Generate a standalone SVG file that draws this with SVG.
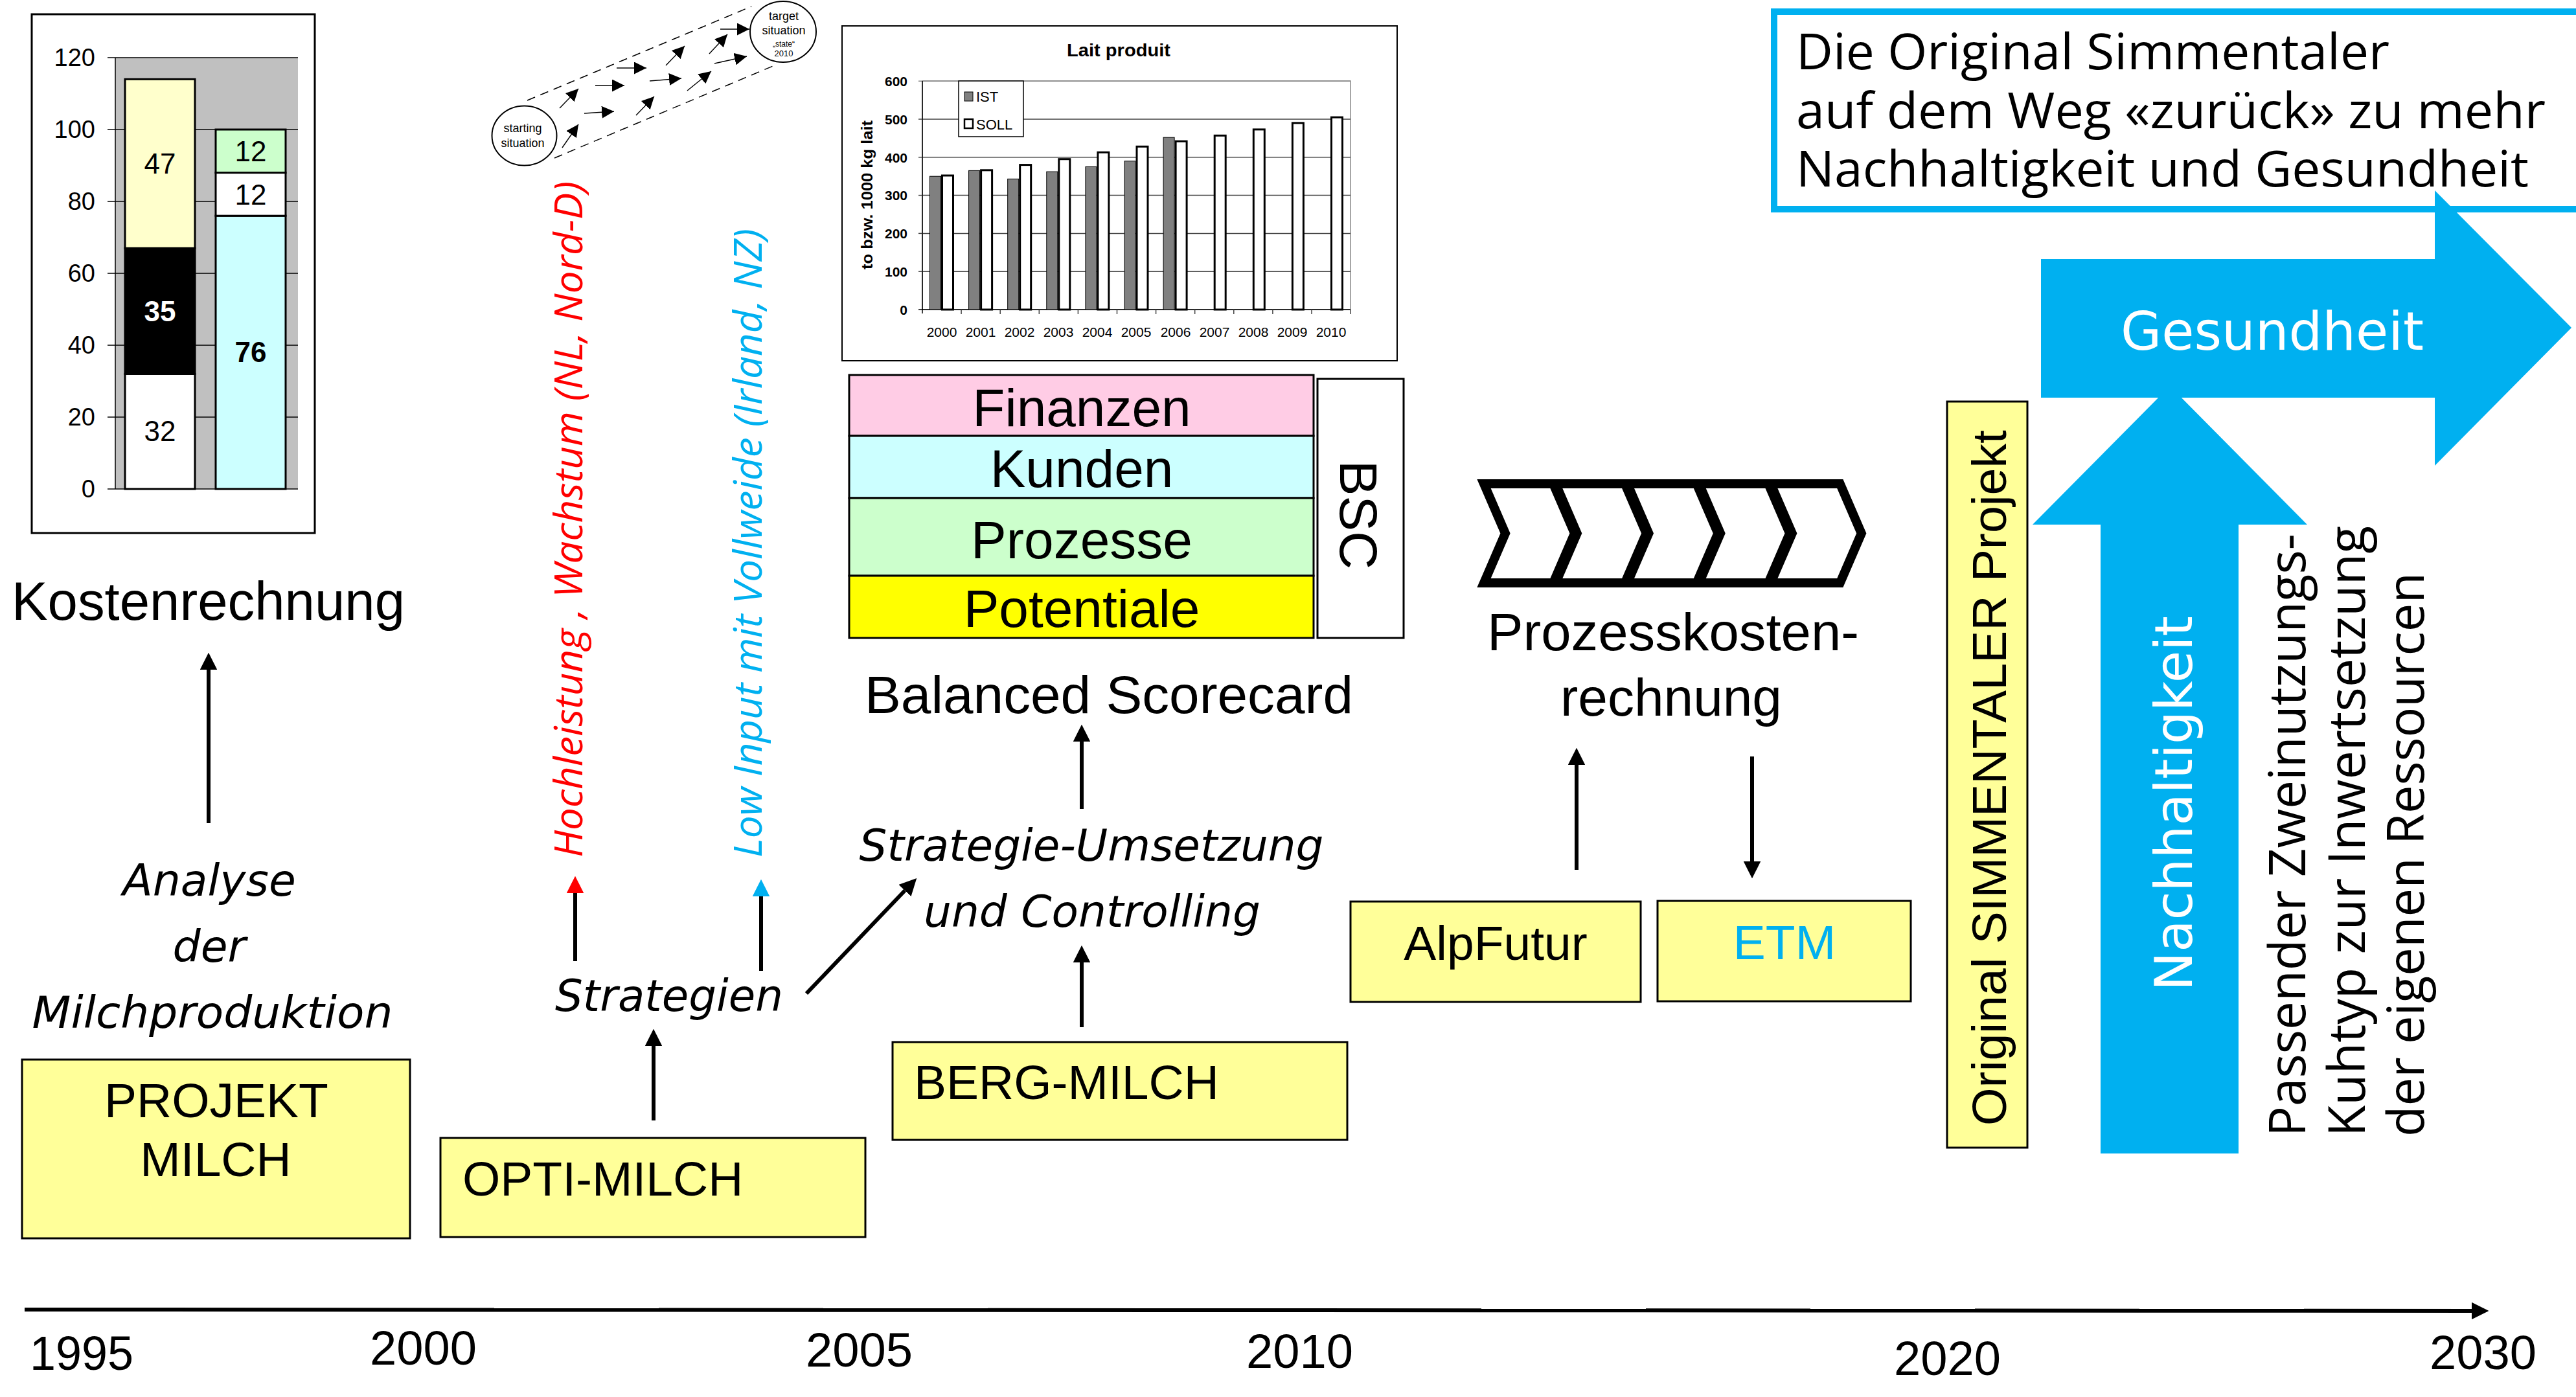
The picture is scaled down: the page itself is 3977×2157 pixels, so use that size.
<svg xmlns="http://www.w3.org/2000/svg" width="3977" height="2157" viewBox="0 0 3977 2157">
<style>
.box{fill:#FFFF99;stroke:#000;stroke-width:3}
.sans{font-family:"Liberation Sans",Arial,sans-serif}
.ital{font-family:"DejaVu Sans",Verdana,sans-serif;font-style:italic}
.cal{font-family:"Open Sans","Noto Sans",sans-serif}
.conn{stroke:#000;stroke-width:6;fill:none}
.grid{stroke:#000;stroke-width:1.5}
.grid2{stroke:#444;stroke-width:1.5}
.bar{stroke:#000;stroke-width:3}
.sm{stroke:#000;stroke-width:1.4;fill:none}
.chev{fill:#fff;stroke:#000;stroke-width:14;stroke-miterlimit:2}
</style>
<defs>
<marker id="ah" viewBox="0 0 10 10" refX="0" refY="5" markerWidth="4.4" markerHeight="4.4" orient="auto" markerUnits="strokeWidth"><path d="M0,0 L10,5 L0,10 z" fill="#000"/></marker>
<marker id="ahr" viewBox="0 0 10 10" refX="0" refY="5" markerWidth="4.4" markerHeight="4.4" orient="auto" markerUnits="strokeWidth"><path d="M0,0 L10,5 L0,10 z" fill="#FF0000"/></marker>
<marker id="ahb" viewBox="0 0 10 10" refX="0" refY="5" markerWidth="4.4" markerHeight="4.4" orient="auto" markerUnits="strokeWidth"><path d="M0,0 L10,5 L0,10 z" fill="#00B0F0"/></marker>
<marker id="sm" viewBox="0 0 20 20" refX="20" refY="10" markerWidth="19" markerHeight="19" orient="auto" markerUnits="userSpaceOnUse"><path d="M0,0 L20,10 L0,20 z" fill="#000"/></marker>
</defs>
<rect width="3977" height="2157" fill="#fff"/>

<!-- Left cost chart -->
<g id="chart-kosten">
<rect x="49" y="22" width="437" height="801" fill="#fff" stroke="#000" stroke-width="3"/>
<rect x="178" y="89" width="282" height="666" fill="#C0C0C0"/>
<g class="grid">
<line x1="166" y1="89" x2="460" y2="89"/>
<line x1="166" y1="200" x2="460" y2="200"/>
<line x1="166" y1="311" x2="460" y2="311"/>
<line x1="166" y1="422" x2="460" y2="422"/>
<line x1="166" y1="533" x2="460" y2="533"/>
<line x1="166" y1="644" x2="460" y2="644"/>
<line x1="166" y1="755" x2="460" y2="755"/>
<line x1="178" y1="89" x2="178" y2="755"/>
</g>
<g class="sans" font-size="38" text-anchor="end">
<text x="147" y="102">120</text>
<text x="147" y="213">100</text>
<text x="147" y="324">80</text>
<text x="147" y="435">60</text>
<text x="147" y="546">40</text>
<text x="147" y="657">20</text>
<text x="147" y="768">0</text>
</g>
<rect class="bar" x="193" y="577.4" width="108" height="177.6" fill="#fff"/>
<rect class="bar" x="193" y="383.2" width="108" height="194.2" fill="#000"/>
<rect class="bar" x="193" y="122.3" width="108" height="260.9" fill="#FFFFCC"/>
<rect class="bar" x="333" y="333.2" width="108" height="421.8" fill="#CCFFFF"/>
<rect class="bar" x="333" y="266.6" width="108" height="66.6" fill="#fff"/>
<rect class="bar" x="333" y="200" width="108" height="66.6" fill="#CCFFCC"/>
<g class="sans" font-size="44" text-anchor="middle">
<text x="247" y="268">47</text>
<text x="247" y="496" font-weight="bold" fill="#fff">35</text>
<text x="247" y="681">32</text>
<text x="387" y="249">12</text>
<text x="387" y="316">12</text>
<text x="387" y="559" font-weight="bold">76</text>
</g>
</g>

<g id="kostenrechnung"><text class="sans" x="18" y="957" font-size="84" textLength="607" lengthAdjust="spacingAndGlyphs">Kostenrechnung</text></g>
<g id="analyse" class="ital" font-size="68" text-anchor="middle">
<text x="323" y="1383">Analyse</text>
<text x="323" y="1485">der</text>
<text x="328" y="1587" textLength="557" lengthAdjust="spacingAndGlyphs">Milchproduktion</text>
</g>
<g id="projekt-milch">
<rect class="box" x="34" y="1636" width="599" height="276"/>
<text class="sans" font-size="75" text-anchor="middle" x="334" y="1725">PROJEKT</text>
<text class="sans" font-size="75" text-anchor="middle" x="333" y="1816">MILCH</text>
</g>

<!-- starting / target sketch -->
<g id="path-sketch">
<line x1="814" y1="155" x2="1160" y2="10" stroke="#000" stroke-width="1.5" stroke-dasharray="13,9"/>
<line x1="856" y1="244" x2="1198" y2="100" stroke="#000" stroke-width="1.5" stroke-dasharray="13,9"/>
<ellipse cx="809.5" cy="209.5" rx="50" ry="46" fill="#fff" stroke="#000" stroke-width="2"/>
<text class="sans" font-size="18" text-anchor="middle" x="807" y="204">starting</text>
<text class="sans" font-size="18" text-anchor="middle" x="807" y="227">situation</text>
<ellipse cx="1209" cy="49" rx="51" ry="47" fill="#fff" stroke="#000" stroke-width="2"/>
<text class="sans" font-size="18" text-anchor="middle" x="1210" y="31">target</text>
<text class="sans" font-size="18" text-anchor="middle" x="1210" y="53">situation</text>
<text class="sans" font-size="12" text-anchor="middle" x="1210" y="72">„state“</text>
<text class="sans" font-size="13" text-anchor="middle" x="1210" y="87">2010</text>
<g class="sm" marker-end="url(#sm)">
<line x1="864" y1="167" x2="893" y2="137"/>
<line x1="868" y1="228" x2="893" y2="192"/>
<line x1="902" y1="175" x2="948" y2="172"/>
<line x1="919" y1="132" x2="964" y2="132"/>
<line x1="952" y1="105" x2="998" y2="105"/>
<line x1="982" y1="178" x2="1010" y2="149"/>
<line x1="1003" y1="125" x2="1052" y2="121"/>
<line x1="1028" y1="101" x2="1057" y2="71"/>
<line x1="1061" y1="140" x2="1098" y2="110"/>
<line x1="1095" y1="83" x2="1123" y2="53"/>
<line x1="1103" y1="98" x2="1153" y2="87"/>
<line x1="1112" y1="45" x2="1157" y2="45"/>
</g>
</g>

<g id="hochleistung"><text class="cal" font-style="italic" font-size="60" fill="#FF0000" transform="translate(899,1324) rotate(-90)" textLength="1044" lengthAdjust="spacingAndGlyphs">Hochleistung , Wachstum (NL, Nord-D)</text></g>
<g id="lowinput"><text class="cal" font-style="italic" font-size="60" fill="#00B0F0" transform="translate(1176,1324) rotate(-90)" textLength="971" lengthAdjust="spacingAndGlyphs">Low Input mit Vollweide (Irland, NZ)</text></g>
<g id="strategien"><text class="ital" font-size="67" x="857" y="1561" textLength="352" lengthAdjust="spacingAndGlyphs">Strategien</text></g>
<g id="opti-milch">
<rect class="box" x="680" y="1757" width="656" height="153"/>
<text class="sans" font-size="75" x="714" y="1846">OPTI-MILCH</text>
</g>

<!-- Lait produit chart -->
<g id="chart-lait">
<rect x="1300" y="40" width="857" height="517" fill="#fff" stroke="#000" stroke-width="2"/>
<text class="sans" font-size="27" font-weight="bold" text-anchor="middle" x="1727" y="87" textLength="160" lengthAdjust="spacingAndGlyphs">Lait produit</text>
<rect x="1424" y="125" width="661" height="353" fill="#fff" stroke="#888" stroke-width="1.5"/>
<g class="grid2">
<line x1="1424" y1="419.2" x2="2085" y2="419.2"/>
<line x1="1424" y1="360.4" x2="2085" y2="360.4"/>
<line x1="1424" y1="301.6" x2="2085" y2="301.6"/>
<line x1="1424" y1="242.8" x2="2085" y2="242.8"/>
<line x1="1424" y1="184" x2="2085" y2="184"/>
<line x1="1418" y1="125.2" x2="2085" y2="125.2" stroke="#888"/>
<line x1="1418" y1="478" x2="2085" y2="478" stroke="#000"/>
<line x1="1424" y1="125" x2="1424" y2="484" stroke="#000"/>
<line x1="1418" y1="419.2" x2="1424" y2="419.2"/>
<line x1="1418" y1="360.4" x2="1424" y2="360.4"/>
<line x1="1418" y1="301.6" x2="1424" y2="301.6"/>
<line x1="1418" y1="242.8" x2="1424" y2="242.8"/>
<line x1="1418" y1="184" x2="1424" y2="184"/>
<line x1="1484.1" y1="478" x2="1484.1" y2="485"/>
<line x1="1544.2" y1="478" x2="1544.2" y2="485"/>
<line x1="1604.3" y1="478" x2="1604.3" y2="485"/>
<line x1="1664.4" y1="478" x2="1664.4" y2="485"/>
<line x1="1724.5" y1="478" x2="1724.5" y2="485"/>
<line x1="1784.6" y1="478" x2="1784.6" y2="485"/>
<line x1="1844.7" y1="478" x2="1844.7" y2="485"/>
<line x1="1904.8" y1="478" x2="1904.8" y2="485"/>
<line x1="1964.9" y1="478" x2="1964.9" y2="485"/>
<line x1="2025" y1="478" x2="2025" y2="485"/>
<line x1="2085" y1="478" x2="2085" y2="485"/>
</g>
<g fill="#808080" stroke="#000" stroke-width="1">
<rect x="1435.5" y="272.2" width="17" height="205.8"/>
<rect x="1495.6" y="263.4" width="17" height="214.6"/>
<rect x="1555.7" y="276.3" width="17" height="201.7"/>
<rect x="1615.8" y="265.1" width="17" height="212.9"/>
<rect x="1675.9" y="257.5" width="17" height="220.5"/>
<rect x="1736" y="248.7" width="17" height="229.3"/>
<rect x="1796.1" y="212.2" width="17" height="265.8"/>
</g>
<g fill="#fff" stroke="#000" stroke-width="3">
<rect x="1454.5" y="271" width="17" height="207"/>
<rect x="1514.6" y="262.8" width="17" height="215.2"/>
<rect x="1574.7" y="254.6" width="17" height="223.4"/>
<rect x="1634.8" y="245.7" width="17" height="232.3"/>
<rect x="1694.9" y="235.2" width="17" height="242.8"/>
<rect x="1755" y="226.3" width="17" height="251.7"/>
<rect x="1815.1" y="218.1" width="17" height="259.9"/>
<rect x="1875.2" y="209.3" width="17" height="268.7"/>
<rect x="1935.3" y="199.9" width="17" height="278.1"/>
<rect x="1995.4" y="189.9" width="17" height="288.1"/>
<rect x="2055.5" y="181.1" width="17" height="296.9"/>
</g>
<rect x="1480" y="125" width="100" height="86" fill="#fff" stroke="#000" stroke-width="1.5"/>
<rect x="1489" y="142" width="13" height="14" fill="#808080" stroke="#000" stroke-width="1"/>
<rect x="1489" y="184" width="13" height="14" fill="#fff" stroke="#000" stroke-width="2.5"/>
<text class="sans" font-size="22" x="1507" y="157">IST</text>
<text class="sans" font-size="22" x="1507" y="200">SOLL</text>
<g class="sans" font-size="21" font-weight="bold" text-anchor="end">
<text x="1401" y="133">600</text>
<text x="1401" y="192">500</text>
<text x="1401" y="251">400</text>
<text x="1401" y="309">300</text>
<text x="1401" y="368">200</text>
<text x="1401" y="427">100</text>
<text x="1401" y="486">0</text>
</g>
<text class="sans" font-size="24" font-weight="bold" text-anchor="middle" transform="translate(1347,301) rotate(-90)" textLength="230" lengthAdjust="spacingAndGlyphs">to bzw. 1000 kg lait</text>
<g class="sans" font-size="21" text-anchor="middle">
<text x="1454" y="520">2000</text>
<text x="1514" y="520">2001</text>
<text x="1574" y="520">2002</text>
<text x="1634" y="520">2003</text>
<text x="1694" y="520">2004</text>
<text x="1754" y="520">2005</text>
<text x="1815" y="520">2006</text>
<text x="1875" y="520">2007</text>
<text x="1935" y="520">2008</text>
<text x="1995" y="520">2009</text>
<text x="2055" y="520">2010</text>
</g>
</g>

<!-- BSC -->
<g id="bsc-table">
<rect x="1311" y="579" width="717" height="94" fill="#FFCCE5" stroke="#000" stroke-width="3"/>
<rect x="1311" y="673" width="717" height="96" fill="#CCFFFF" stroke="#000" stroke-width="3"/>
<rect x="1311" y="769" width="717" height="120" fill="#CCFFCC" stroke="#000" stroke-width="3"/>
<rect x="1311" y="889" width="717" height="96" fill="#FFFF00" stroke="#000" stroke-width="3"/>
<g class="sans" font-size="82" text-anchor="middle">
<text x="1670" y="658">Finanzen</text>
<text x="1670" y="752">Kunden</text>
<text x="1670" y="862">Prozesse</text>
<text x="1670" y="968">Potentiale</text>
</g>
</g>
<g id="bsc-label">
<rect x="2034" y="585" width="133" height="400" fill="#fff" stroke="#000" stroke-width="3"/>
<text class="sans" font-size="82" text-anchor="middle" transform="translate(2069,795) rotate(90)">BSC</text>
</g>
<g id="balanced-scorecard"><text class="sans" font-size="82" text-anchor="middle" x="1712" y="1101" textLength="754" lengthAdjust="spacingAndGlyphs">Balanced Scorecard</text></g>
<g id="strategie-umsetzung" class="ital" font-size="67" text-anchor="middle">
<text x="1685" y="1329" textLength="717" lengthAdjust="spacingAndGlyphs">Strategie-Umsetzung</text>
<text x="1686" y="1431" textLength="520" lengthAdjust="spacingAndGlyphs">und Controlling</text>
</g>
<g id="berg-milch">
<rect class="box" x="1378" y="1609" width="702" height="151"/>
<text class="sans" font-size="75" x="1411" y="1697">BERG-MILCH</text>
</g>

<!-- Prozesskostenrechnung -->
<g id="chevrons">
<polygon class="chev" points="2291,747 2398,747 2431,823.5 2398,900 2291,900 2324,823.5"/>
<polygon class="chev" points="2401.7,747 2508.7,747 2541.7,823.5 2508.7,900 2401.7,900 2434.7,823.5"/>
<polygon class="chev" points="2512.4,747 2619.4,747 2652.4,823.5 2619.4,900 2512.4,900 2545.4,823.5"/>
<polygon class="chev" points="2623.1,747 2730.1,747 2763.1,823.5 2730.1,900 2623.1,900 2656.1,823.5"/>
<polygon class="chev" points="2733.8,747 2840.8,747 2873.8,823.5 2840.8,900 2733.8,900 2766.8,823.5"/>
</g>
<g id="prozesskosten" class="sans" font-size="82" text-anchor="middle">
<text x="2583" y="1004" textLength="574" lengthAdjust="spacingAndGlyphs">Prozesskosten-</text>
<text x="2580" y="1105">rechnung</text>
</g>
<g id="alpfutur">
<rect class="box" x="2085" y="1392" width="448" height="155"/>
<text class="sans" font-size="75" text-anchor="middle" x="2309" y="1482">AlpFutur</text>
</g>
<g id="etm">
<rect class="box" x="2559" y="1391" width="391" height="155"/>
<text class="sans" font-size="75" text-anchor="middle" x="2755" y="1481" fill="#00B0F0">ETM</text>
</g>

<!-- Right side -->
<g id="title-box">
<rect x="2739" y="18" width="1300" height="305" fill="#fff" stroke="#00B0F0" stroke-width="10"/>
<g class="cal" font-size="76">
<text x="2773" y="107" textLength="916" lengthAdjust="spacingAndGlyphs">Die Original Simmentaler</text>
<text x="2773" y="198" textLength="1157" lengthAdjust="spacingAndGlyphs">auf dem Weg «zurück» zu mehr</text>
<text x="2773" y="288" textLength="1131" lengthAdjust="spacingAndGlyphs">Nachhaltigkeit und Gesundheit</text>
</g>
</g>
<g id="nachhaltigkeit">
<polygon points="3243,1781 3243,810 3138,810 3350,596 3562,810 3456,810 3456,1781" fill="#00B0F0"/>
<text font-family="'DejaVu Sans',Verdana,sans-serif" font-size="80" fill="#fff" transform="translate(3384,1530) rotate(-90)" textLength="579" lengthAdjust="spacingAndGlyphs">Nachhaltigkeit</text>
</g>
<g id="gesundheit">
<polygon points="3151,400 3759,400 3759,294 3970,506 3759,719 3759,614 3151,614" fill="#00B0F0"/>
<text font-family="'DejaVu Sans',Verdana,sans-serif" font-size="82" fill="#fff" x="3274" y="540" textLength="468" lengthAdjust="spacingAndGlyphs">Gesundheit</text>
</g>
<g id="simmentaler-projekt">
<rect class="box" x="3006" y="620" width="124" height="1152"/>
<text class="sans" font-size="74" transform="translate(3097,1738) rotate(-90)" textLength="1074" lengthAdjust="spacingAndGlyphs">Original SIMMENTALER Projekt</text>
</g>
<g id="passender" class="cal" font-size="78">
<text transform="translate(3559,1755) rotate(-90)" textLength="931" lengthAdjust="spacingAndGlyphs">Passender Zweinutzungs-</text>
<text transform="translate(3651,1755) rotate(-90)" textLength="943" lengthAdjust="spacingAndGlyphs">Kuhtyp zur Inwertsetzung</text>
<text transform="translate(3742,1755) rotate(-90)" textLength="871" lengthAdjust="spacingAndGlyphs">der eigenen Ressourcen</text>
</g>

<!-- Timeline -->
<g id="timeline-labels" class="sans" font-size="75">
<text x="46" y="2115" textLength="160" lengthAdjust="spacingAndGlyphs">1995</text>
<text x="571" y="2107" textLength="165" lengthAdjust="spacingAndGlyphs">2000</text>
<text x="1244" y="2110" textLength="165" lengthAdjust="spacingAndGlyphs">2005</text>
<text x="1924" y="2112" textLength="165" lengthAdjust="spacingAndGlyphs">2010</text>
<text x="2924" y="2123" textLength="165" lengthAdjust="spacingAndGlyphs">2020</text>
<text x="3751" y="2114" textLength="165" lengthAdjust="spacingAndGlyphs">2030</text>
</g>

<g id="connectors">
<line class="conn" x1="322" y1="1271" x2="322" y2="1034" marker-end="url(#ah)"/>
<line class="conn" x1="888" y1="1484" x2="888" y2="1379" stroke="#FF0000" marker-end="url(#ahr)"/>
<line class="conn" x1="1175" y1="1499" x2="1175" y2="1384" stroke="#00B0F0" marker-end="url(#ahb)"/>
<line class="conn" x1="1009" y1="1730" x2="1009" y2="1615" marker-end="url(#ah)"/>
<line class="conn" x1="1245" y1="1534" x2="1397" y2="1375" stroke-width="4" marker-end="url(#ah)"/>
<line class="conn" x1="1670" y1="1249" x2="1670" y2="1145" marker-end="url(#ah)"/>
<line class="conn" x1="1670" y1="1586" x2="1670" y2="1486" marker-end="url(#ah)"/>
<line class="conn" x1="2434" y1="1343" x2="2434" y2="1181" marker-end="url(#ah)"/>
<line class="conn" x1="2705" y1="1168" x2="2705" y2="1330" marker-end="url(#ah)"/>
<line class="conn" x1="38" y1="2022" x2="3816" y2="2024" stroke-width="5" marker-end="url(#ah)"/>
</g>
</svg>
